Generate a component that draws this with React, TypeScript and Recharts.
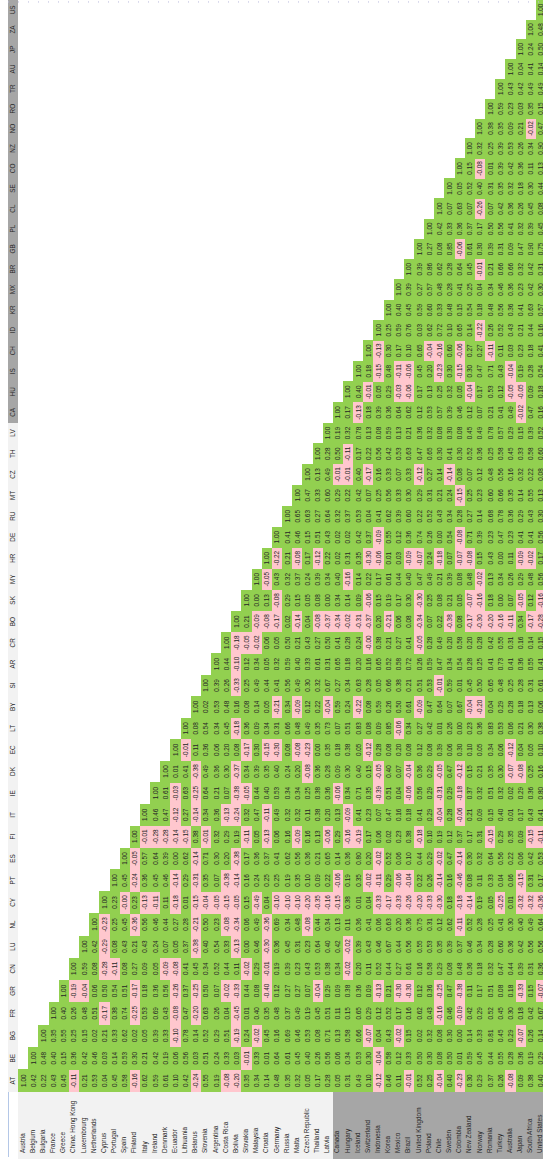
import { BarChart, Bar, XAxis, YAxis, ReferenceLine } from 'recharts'

const codes = [
  'AT', 'BE', 'BG', 'FR', 'GR', 'CN', 'LU', 'NL', 'CY', 'PT', 'ES', 'FI', 'IT',
  'IE', 'DK', 'EC', 'LT', 'BY', 'SI', 'AR', 'CR', 'BO', 'SK', 'MY', 'HR', 'DE',
  'RU', 'MT', 'CZ', 'TH', 'LV', 'CA', 'HU', 'IS', 'CH', 'ID', 'KR', 'MX', 'BR',
  'GB', 'PL', 'CL', 'SE', 'CO', 'NZ', 'NO', 'RO', 'TR', 'AU', 'JP', 'ZA', 'US',
]

const countries = [
  'Austria', 'Belgium', 'Bulgaria', 'France', 'Greece', 'China: Hong Kong',
  'Luxembourg', 'Netherlands', 'Cyprus', 'Portugal', 'Spain', 'Finland', 'Italy',
  'Ireland', 'Denmark', 'Ecuador', 'Lithuania', 'Belarus', 'Slovenia', 'Argentina',
  'Costa Rica', 'Bolivia', 'Slovakia', 'Malaysia', 'Croatia', 'Germany', 'Russia',
  'Malta', 'Czech Republic', 'Thailand', 'Latvia', 'Canada', 'Hungary', 'Iceland',
  'Switzerland', 'Indonesia', 'Korea', 'Mexico', 'Brazil', 'United Kingdom',
  'Poland', 'Chile', 'Sweden', 'Colombia', 'New Zealand', 'Norway', 'Romania',
  'Turkey', 'Australia', 'Japan', 'South Africa', 'United States',
]

// lower triangle, one list per code: corr(country k, code j) for k = j .. last
const corrColumns: number[][] = [
  /* AT */ [1.00, 0.42, 0.22, 0.43, 0.45, -0.11, 0.21, 0.53, 0.04, 0.45, 0.58, -0.16, 0.62, 0.59, 0.61, 0.10, 0.42, -0.24, 0.55, 0.19, -0.08, -0.20, 0.35, 0.34, 0.14, 0.48, 0.35, 0.32, 0.05, 0.17, 0.28, 0.05, 0.31, 0.49, 0.10, -0.12, 0.46, 0.11, -0.01, 0.52, 0.25, -0.04, 0.40, -0.23, 0.30, 0.29, 0.37, 0.26, -0.08, 0.09, 0.38, 0.40],
  /* BE */ [1.00, 0.48, 0.40, 0.15, 0.36, 0.42, 0.46, 0.03, 0.14, 0.53, 0.30, 0.21, 0.42, 0.19, 0.06, 0.56, 0.03, 0.51, 0.24, 0.33, 0.03, -0.01, 0.33, 0.01, 0.64, 0.61, 0.45, 0.40, 0.26, 0.56, 0.06, 0.34, 0.53, 0.30, -0.04, 0.58, 0.12, 0.33, 0.50, 0.30, 0.08, 0.50, 0.01, 0.59, 0.45, 0.44, 0.55, 0.28, 0.36, 0.19, 0.29],
  /* BG */ [1.00, 0.35, 0.55, 0.25, 0.15, 0.02, 0.21, 0.33, 0.62, 0.02, 0.05, 0.39, 0.33, -0.10, 0.78, 0.14, 0.52, 0.29, 0.51, -0.19, 0.24, -0.02, 0.45, 0.16, 0.69, 0.46, 0.53, 0.08, 0.71, 0.13, 0.58, 0.66, -0.07, 0.04, 0.43, -0.02, 0.15, 0.02, 0.32, 0.08, 0.30, 0.00, 0.14, 0.33, 0.81, 0.45, 0.29, -0.07, 0.26, 0.14],
  /* FR */ [1.00, 0.40, 0.26, 0.48, 0.51, -0.17, 0.38, 0.74, -0.25, 0.53, 0.69, 0.43, -0.08, 0.47, -0.20, 0.63, 0.26, 0.04, -0.45, 0.01, 0.40, 0.35, 0.48, 0.37, 0.49, 0.19, 0.45, 0.51, 0.11, 0.15, 0.65, 0.29, 0.12, 0.52, 0.17, 0.16, 0.62, 0.43, -0.16, 0.46, -0.09, 0.42, 0.29, 0.52, 0.45, 0.30, 0.18, 0.42, 0.67],
  /* GR */ [1.00, -0.19, -0.04, 0.06, 0.50, 0.54, 0.51, -0.17, 0.18, 0.36, 0.56, -0.26, 0.37, -0.25, 0.50, 0.07, -0.02, -0.33, 0.44, 0.08, -0.40, 0.12, 0.27, 0.27, 0.07, -0.04, 0.29, 0.09, 0.38, 0.36, 0.09, -0.13, 0.21, -0.30, -0.30, 0.12, 0.36, -0.25, 0.47, -0.38, 0.11, 0.17, 0.51, 0.08, 0.18, -0.33, 0.15, -0.07],
  /* CN */ [1.00, 0.59, 0.08, -0.28, -0.11, 0.08, 0.27, 0.09, 0.05, -0.09, -0.08, 0.41, 0.45, 0.34, 0.52, 0.44, 0.11, -0.02, 0.29, -0.01, 0.19, 0.39, 0.23, 0.43, 0.53, 0.38, 0.34, -0.02, 0.20, 0.11, 0.52, 0.44, 0.27, 0.61, 0.16, 0.58, 0.29, 0.08, 0.48, 0.36, 0.18, 0.32, 0.47, 0.44, 0.39, 0.31, 0.36],
  /* LU */ [1.00, 0.42, -0.29, 0.08, 0.43, 0.21, 0.43, 0.24, 0.07, 0.05, 0.37, -0.38, 0.40, 0.54, 0.33, -0.13, 0.00, 0.46, -0.30, 0.36, 0.45, 0.31, 0.23, 0.64, 0.40, 0.42, -0.02, 0.39, 0.43, 0.46, 0.67, 0.44, 0.56, 0.55, 0.53, 0.35, 0.39, 0.37, 0.46, 0.34, 0.28, 0.60, 0.36, 0.42, 0.56, 0.56],
  /* NL */ [1.00, -0.23, 0.25, 0.45, -0.36, 0.56, 0.46, 0.44, 0.27, 0.28, -0.21, 0.50, 0.23, -0.08, -0.34, 0.06, 0.49, -0.36, 0.69, 0.34, 0.48, -0.08, 0.44, 0.34, 0.13, 0.11, 0.36, 0.41, 0.06, 0.63, 0.20, 0.36, 0.75, 0.31, 0.12, 0.62, -0.11, 0.52, 0.28, 0.25, 0.41, 0.30, 0.40, 0.49, 0.64],
  /* CY */ [1.00, 0.23, -0.001, 0.23, -0.13, -0.11, 0.11, -0.18, 0.01, -0.15, -0.04, -0.05, -0.15, -0.05, 0.15, -0.49, 0.04, -0.10, -0.10, -0.10, -0.20, -0.35, -0.16, -0.15, 0.38, 0.01, 0.04, -0.33, -0.17, -0.33, -0.26, -0.20, -0.33, -0.30, 0.18, -0.18, -0.14, 0.19, 0.05, -0.25, 0.01, -0.32, -0.32, -0.36],
  /* PT */ [1.00, 0.45, -0.24, 0.36, 0.45, 0.46, -0.14, 0.29, -0.31, 0.35, 0.07, -0.38, -0.14, 0.16, 0.24, 0.25, 0.25, 0.19, 0.35, 0.10, 0.09, 0.22, -0.06, 0.19, 0.35, -0.02, -0.11, 0.29, -0.06, -0.04, 0.22, 0.26, -0.14, 0.16, -0.46, 0.08, 0.11, 0.33, 0.04, 0.06, -0.15, 0.31, 0.17],
  /* ES */ [1.00, -0.05, 0.57, 0.64, 0.39, 0.00, 0.62, -0.14, 0.71, 0.30, 0.20, -0.38, 0.17, 0.36, 0.37, 0.41, 0.62, 0.56, 0.36, 0.21, 0.65, 0.14, 0.36, 0.80, 0.20, -0.02, 0.52, 0.06, 0.10, 0.44, 0.29, -0.02, 0.47, -0.14, 0.30, 0.32, 0.64, 0.56, 0.22, 0.06, 0.42, 0.53],
  /* FI */ [1.00, -0.01, -0.28, -0.28, -0.14, -0.15, 0.38, -0.01, 0.32, 0.29, 0.19, -0.11, 0.05, -0.13, 0.06, 0.16, -0.09, 0.16, 0.13, -0.06, 0.29, -0.16, -0.19, 0.17, 0.06, 0.02, 0.23, 0.38, -0.18, 0.10, 0.19, 0.12, 0.37, 0.17, 0.31, -0.15, 0.29, 0.35, 0.09, -0.15, -0.11],
  /* IT */ [1.00, 0.46, 0.47, -0.12, 0.27, -0.14, 0.34, 0.36, -0.13, -0.24, 0.32, 0.47, -0.11, 0.49, 0.32, 0.32, 0.11, 0.38, 0.20, 0.13, -0.09, 0.41, 0.23, 0.07, 0.47, 0.16, 0.18, 0.41, 0.29, -0.04, 0.28, -0.06, 0.21, 0.09, 0.15, 0.40, 0.01, 0.17, 0.43, 0.41],
  /* IE */ [1.00, 0.61, -0.03, 0.63, -0.25, 0.64, 0.21, 0.07, -0.38, -0.05, 0.44, 0.40, 0.53, 0.34, 0.34, 0.25, 0.38, 0.36, -0.06, 0.34, 0.71, 0.35, -0.39, 0.51, 0.04, -0.06, 0.56, 0.29, -0.31, 0.29, -0.18, 0.37, 0.32, 0.51, 0.32, 0.02, 0.29, 0.36, 0.80],
  /* DK */ [1.00, 0.01, 0.41, -0.38, 0.49, 0.36, 0.30, -0.37, 0.34, 0.39, 0.35, 0.40, 0.24, 0.20, -0.08, 0.36, 0.28, 0.09, 0.30, 0.40, 0.15, -0.05, 0.40, 0.07, -0.04, 0.36, 0.29, -0.05, 0.47, -0.12, 0.15, 0.21, 0.35, 0.30, -0.07, -0.08, 0.25, 0.16],
  /* EC */ [1.00, -0.01, 0.11, 0.36, 0.06, 0.20, 0.08, -0.17, 0.30, -0.15, -0.30, 0.08, -0.08, -0.23, 0.00, 0.35, 0.18, 0.38, 0.05, -0.12, 0.28, 0.08, 0.20, 0.08, 0.12, 0.08, 0.39, 0.06, 0.30, 0.10, 0.05, 0.34, 0.06, -0.12, 0.04, 0.05, 0.10],
  /* LT */ [1.00, 0.08, 0.54, 0.34, 0.45, -0.18, 0.36, 0.09, 0.34, 0.31, 0.66, 0.48, 0.49, 0.35, 0.73, 0.07, 0.51, 0.83, 0.08, 0.09, 0.85, -0.06, 0.34, 0.27, 0.42, 0.01, 0.26, 0.00, 0.23, 0.36, 0.83, 0.53, 0.06, 0.21, 0.30, 0.38],
  /* BY */ [1.00, 0.02, 0.53, 0.48, 0.16, 0.08, 0.14, 0.05, -0.21, 0.34, -0.09, 0.12, 0.22, -0.04, 0.59, 0.24, -0.22, 0.08, 0.59, 0.26, 0.50, 0.61, -0.09, 0.47, 0.64, 0.07, 0.67, -0.04, -0.20, 0.04, 0.29, 0.28, 0.18, 0.13, 0.06],
  /* SI */ [1.00, 0.39, 0.26, -0.33, 0.25, 0.49, 0.44, 0.41, 0.56, 0.49, 0.30, 0.32, 0.67, 0.27, 0.34, 0.63, 0.28, 0.05, 0.66, 0.38, 0.21, 0.51, 0.53, -0.01, 0.59, 0.01, 0.45, 0.50, 0.65, 0.48, 0.25, 0.28, 0.31, 0.61],
  /* AR */ [1.00, 0.44, -0.10, 0.12, 0.34, 0.05, 0.32, 0.59, 0.40, 0.33, 0.61, 0.31, 0.65, 0.18, 0.20, 0.16, 0.65, 0.52, 0.58, 0.72, 0.26, 0.59, 0.47, 0.34, 0.54, 0.28, 0.25, 0.41, 0.73, 0.41, 0.36, 0.55, 0.41],
  /* CR */ [1.00, -0.18, -0.05, -0.02, 0.06, 0.05, 0.50, 0.21, 0.43, 0.27, 0.50, 0.41, 0.28, 0.24, -0.001, 0.38, 0.21, 0.27, 0.41, -0.05, 0.28, 0.49, 0.20, 0.58, 0.20, 0.28, 0.42, 0.55, 0.31, 0.16, 0.14, 0.15],
  /* BO */ [1.00, 0.21, -0.09, -0.08, -0.17, 0.02, -0.14, 0.04, -0.08, -0.37, -0.34, -0.02, -0.31, -0.37, 0.20, -0.21, 0.06, 0.08, -0.34, 0.07, 0.22, -0.38, 0.08, -0.17, -0.30, -0.20, -0.16, -0.11, 0.34, -0.17, -0.28],
  /* SK */ [1.00, 0.00, 0.13, -0.08, 0.29, 0.15, 0.05, 0.08, 0.00, 0.34, 0.14, 0.09, -0.06, 0.15, 0.19, 0.17, 0.30, -0.30, 0.25, 0.08, 0.21, 0.05, -0.07, -0.16, 0.18, 0.00, 0.07, -0.05, 0.12, -0.16],
  /* MY */ [1.00, -0.05, 0.43, 0.32, 0.37, 0.24, 0.39, 0.34, 0.40, -0.16, 0.14, 0.22, 0.17, 0.61, 0.44, 0.40, 0.47, 0.49, 0.21, 0.39, 0.08, 0.48, -0.02, 0.13, 0.34, 0.26, 0.29, 0.48, 0.56],
  /* HR */ [1.00, -0.22, 0.21, -0.08, 0.17, -0.12, 0.22, 0.02, 0.31, 0.35, -0.30, -0.06, 0.01, 0.03, -0.09, -0.07, 0.24, -0.18, 0.07, -0.07, -0.08, 0.15, 0.43, 0.00, 0.11, -0.09, -0.02, 0.17],
  /* DE */ [1.00, 0.41, 0.46, 0.15, 0.51, 0.43, 0.02, 0.02, 0.42, 0.37, -0.09, 0.55, 0.12, 0.36, 0.74, 0.26, 0.00, 0.54, -0.08, 0.71, 0.39, 0.23, 0.47, 0.23, 0.41, 0.41, 0.56],
  /* RU */ [1.00, 0.65, 0.63, 0.27, 0.64, 0.32, 0.37, 0.53, 0.04, 0.41, 0.62, 0.39, 0.60, 0.22, 0.52, 0.43, 0.34, 0.28, 0.27, 0.14, 0.68, 0.78, 0.36, 0.29, 0.43, 0.30],
  /* MT */ [1.00, 0.47, 0.33, 0.60, 0.29, 0.22, 0.42, 0.07, 0.25, 0.56, 0.33, 0.30, 0.29, 0.31, 0.21, 0.24, -0.15, 0.25, 0.23, 0.60, 0.66, 0.35, 0.14, 0.55, 0.13],
  /* CZ */ [1.00, 0.13, 0.49, -0.01, -0.01, 0.40, -0.17, 0.16, 0.33, 0.07, 0.33, -0.12, 0.27, 0.14, -0.14, 0.08, 0.07, 0.12, 0.48, 0.56, 0.16, 0.32, 0.22, 0.08],
  /* TH */ [1.00, 0.28, 0.50, -0.11, 0.17, 0.22, 0.56, 0.42, 0.53, 0.63, 0.47, 0.65, 0.30, 0.41, 0.30, 0.52, 0.36, 0.25, 0.58, 0.45, 0.33, 0.58, 0.60],
  /* LV */ [1.00, 0.19, 0.32, 0.78, 0.13, 0.08, 0.59, 0.13, 0.21, 0.36, 0.32, 0.08, 0.30, 0.08, 0.45, 0.49, 0.78, 0.57, 0.29, 0.15, 0.39, 0.52],
  /* CA */ [1.00, 0.17, -0.13, 0.18, 0.39, 0.36, 0.64, 0.62, 0.12, 0.53, 0.57, 0.39, 0.46, 0.12, 0.07, 0.21, 0.41, 0.49, -0.02, 0.47, 0.16],
  /* HU */ [1.00, 0.40, -0.01, 0.05, 0.29, -0.03, -0.06, 0.17, 0.13, 0.25, 0.32, 0.05, -0.04, 0.17, 0.53, 0.12, -0.05, -0.05, 0.09, 0.18],
  /* IS */ [1.00, 0.18, -0.15, 0.48, -0.11, -0.06, 0.45, 0.20, -0.23, 0.30, -0.15, 0.30, 0.47, 0.71, 0.43, -0.04, 0.19, 0.28, 0.54],
  /* CH */ [1.00, -0.13, 0.30, 0.17, 0.10, 0.65, -0.04, -0.16, 0.60, -0.06, 0.27, 0.27, -0.11, 0.11, 0.03, 0.23, 0.18, 0.41],
  /* ID */ [1.00, 0.25, 0.59, 0.76, 0.03, 0.62, 0.72, 0.10, 0.65, 0.14, -0.22, 0.26, 0.52, 0.43, 0.21, 0.44, 0.16],
  /* KR */ [1.00, 0.40, 0.45, 0.59, 0.60, 0.33, 0.48, 0.15, 0.54, 0.18, 0.48, 0.56, 0.36, 0.41, 0.63, 0.57],
  /* MX */ [1.00, 0.39, 0.27, 0.57, 0.48, 0.28, 0.41, 0.25, 0.04, 0.34, 0.46, 0.36, 0.23, 0.42, 0.30],
  /* BR */ [1.00, 0.39, 0.86, 0.62, 0.28, 0.64, 0.45, -0.01, 0.21, 0.66, 0.66, 0.32, 0.42, 0.31],
  /* GB */ [1.00, 0.27, 0.08, 0.85, -0.06, 0.61, 0.30, 0.39, 0.31, 0.09, 0.47, 0.90, 0.75],
  /* PL */ [1.00, 0.42, 0.33, 0.36, 0.37, 0.17, 0.50, 0.56, 0.41, 0.32, 0.39, 0.45],
  /* CL */ [1.00, 0.07, 0.63, 0.07, -0.26, 0.07, 0.42, 0.36, 0.26, 0.45, 0.08],
  /* SE */ [1.00, 0.05, 0.52, 0.40, 0.31, 0.35, 0.32, 0.18, 0.30, 0.44],
  /* CO */ [1.00, 0.15, -0.08, 0.01, 0.39, 0.42, 0.36, 0.11, 0.13],
  /* NZ */ [1.00, 0.32, 0.25, 0.39, 0.53, 0.26, 0.34, 0.90],
  /* NO */ [1.00, 0.38, 0.35, 0.09, 0.21, -0.02, 0.47],
  /* RO */ [1.00, 0.59, 0.23, 0.03, 0.35, 0.15],
  /* TR */ [1.00, 0.43, 0.42, 0.49, 0.49],
  /* AU */ [1.00, 0.04, 0.41, 0.14],
  /* JP */ [1.00, 0.24, 0.50],
  /* ZA */ [1.00, 0.48],
  /* US */ [1.00],
]

// from Canada on, the sheet shades its labels darker
const FIRST_DARK = countries.indexOf('Canada')

const WIDTH = 548
const HEIGHT = 1165
const LABEL_H = 73
const MARGIN = { top: 0, right: 2, bottom: 0, left: 8 }
const BAND = (WIDTH - MARGIN.left - MARGIN.right) / (countries.length + 1)
// the sheet's code columns get a little narrower towards US; an offset sqrt scale follows that
const ROOT = 158

const GREEN = '#92d050'
const PINK = '#ffc7ce'
const LIGHT = '#f2f2f2'
const DARK = '#a6a6a6'
const INK = '#262626'
const FONT = '"Liberation Sans", Arial, sans-serif'

// band 0 holds the code headers, bands 1.. the countries
const rows = ['', ...countries].map((name, i) => {
  const row: Record<string, string | number> = { name, idx: i, base: ROOT + 0.5 }
  codes.forEach((code, j) => {
    if (i === 0 || j < i) row[code] = 1
  })
  return row
})

function cellShape(j: number) {
  return (props: any) => {
    const { x, y, width, height, payload } = props
    if (!payload || payload[codes[j]] === undefined || !height) return null
    const i = payload.idx as number
    let fill: string
    let label: string
    if (i === 0) {
      fill = j >= FIRST_DARK ? DARK : LIGHT
      label = codes[j]
    } else {
      const v = corrColumns[j][i - 1 - j]
      fill = v < 0 ? PINK : GREEN
      label = v.toFixed(2)
    }
    const cx = x + width / 2
    const cy = y + height / 2
    return (
      <g>
        <rect x={x} y={y} width={width + 0.3} height={height + 0.3} fill={fill} shapeRendering="crispEdges" />
        <text
          x={cx}
          y={cy}
          transform={`rotate(-90 ${cx} ${cy})`}
          textAnchor="middle"
          dominantBaseline="central"
          fontSize={6.4}
          fontFamily={FONT}
          fill={INK}
        >
          {label}
        </text>
      </g>
    )
  }
}

function LabelTick(props: any) {
  const { x, payload } = props
  const top = HEIGHT - LABEL_H
  const left = x - BAND / 2
  const i = countries.indexOf(payload.value)
  if (i < 0) {
    return (
      <g>
        <rect x={left} y={top} width={BAND} height={LABEL_H} fill="#ffffff" />
        <line x1={left + 0.5} x2={left + 0.5} y1={top} y2={HEIGHT - 8} stroke="#b4c7e7" strokeWidth={1} />
      </g>
    )
  }
  const ty = top + 61
  return (
    <g>
      <rect x={left} y={top} width={BAND + 0.3} height={LABEL_H} fill={i >= FIRST_DARK ? DARK : LIGHT} shapeRendering="crispEdges" />
      <text
        x={x - 1}
        y={ty}
        transform={`rotate(-90 ${x - 1} ${ty})`}
        textAnchor="start"
        dominantBaseline="central"
        fontSize={6.4}
        fontFamily={FONT}
        fill={INK}
      >
        {payload.value}
      </text>
    </g>
  )
}

export default function App() {
  return (
    <div style={{ position: 'absolute', left: 0, top: 0, width: 543, height: 1159, overflow: 'hidden', background: '#fff' }}>
      <BarChart width={WIDTH} height={HEIGHT} data={rows} margin={MARGIN} barCategoryGap={0} barGap={0}>
        <XAxis
          dataKey="name"
          interval={0}
          tickLine={false}
          axisLine={false}
          height={LABEL_H}
          tick={(p: any) => <LabelTick {...p} />}
        />
        <YAxis
          hide
          type="number"
          scale="sqrt"
          domain={[ROOT + 0.5, ROOT + codes.length + 0.5]}
          allowDataOverflow
        />
        <Bar dataKey="base" stackId="sheet" shape={() => null} isAnimationActive={false} />
        {codes.map((code, j) => (
          <Bar key={code} dataKey={code} stackId="sheet" shape={cellShape(j)} isAnimationActive={false} />
        ))}
        {/* the sheet's page-break marker along the top edge */}
        <ReferenceLine y={ROOT + codes.length + 0.4} stroke="#b9b9dd" strokeWidth={1} strokeDasharray="1 9" />
      </BarChart>
    </div>
  )
}
